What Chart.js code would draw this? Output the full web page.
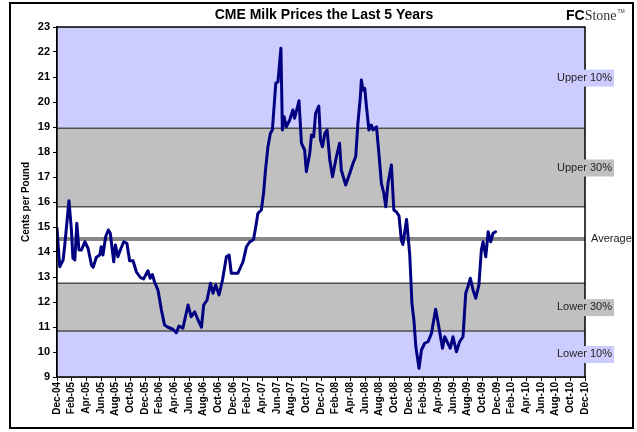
<!DOCTYPE html>
<html><head><meta charset="utf-8">
<script src="https://cdn.jsdelivr.net/npm/chart.js@4.4.0/dist/chart.umd.min.js"></script>
<style>html,body{margin:0;padding:0;background:#fff}#c{display:block}</style>
</head><body>
<canvas id="c" width="637" height="432"></canvas>
<script>
const tickLabels = ["Dec-04","Feb-05","Apr-05","Jun-05","Aug-05","Oct-05","Dec-05","Feb-06","Apr-06","Jun-06","Aug-06","Oct-06","Dec-06","Feb-07","Apr-07","Jun-07","Aug-07","Oct-07","Dec-07","Feb-08","Apr-08","Jun-08","Aug-08","Oct-08","Dec-08","Feb-09","Apr-09","Jun-09","Aug-09","Oct-09","Dec-09","Feb-10","Apr-10","Jun-10","Aug-10","Oct-10","Dec-10"];

const dates = ["2004-12-01","2004-12-12","2004-12-26","2005-01-02","2005-01-20","2005-01-30","2005-02-06","2005-02-14","2005-02-22","2005-03-01","2005-03-11","2005-03-25","2005-04-08","2005-04-22","2005-04-29","2005-05-12","2005-05-26","2005-06-02","2005-06-09","2005-06-20","2005-07-01","2005-07-09","2005-07-23","2005-07-30","2005-08-10","2005-08-20","2005-09-04","2005-09-17","2005-09-28","2005-10-12","2005-10-26","2005-11-12","2005-11-25","2005-12-13","2005-12-22","2006-01-01","2006-01-10","2006-01-24","2006-02-08","2006-02-21","2006-03-05","2006-03-25","2006-04-09","2006-04-20","2006-05-06","2006-05-27","2006-06-10","2006-06-24","2006-07-08","2006-07-22","2006-08-01","2006-08-15","2006-08-29","2006-09-09","2006-09-20","2006-10-04","2006-10-18","2006-11-04","2006-11-15","2006-11-24","2006-12-21","2007-01-12","2007-01-26","2007-02-09","2007-02-25","2007-03-04","2007-03-13","2007-03-27","2007-04-06","2007-04-14","2007-04-24","2007-05-04","2007-05-12","2007-05-26","2007-06-05","2007-06-17","2007-06-23","2007-06-30","2007-07-09","2007-07-23","2007-08-06","2007-08-13","2007-09-01","2007-09-11","2007-09-24","2007-10-01","2007-10-15","2007-10-22","2007-11-01","2007-11-09","2007-11-22","2007-11-29","2007-12-07","2007-12-17","2007-12-26","2008-01-07","2008-01-18","2008-02-04","2008-02-17","2008-02-24","2008-03-12","2008-03-29","2008-04-12","2008-04-23","2008-05-02","2008-05-12","2008-05-16","2008-05-23","2008-05-30","2008-06-07","2008-06-17","2008-06-27","2008-07-04","2008-07-18","2008-07-29","2008-08-08","2008-08-18","2008-08-26","2008-09-05","2008-09-19","2008-09-29","2008-10-09","2008-10-20","2008-10-30","2008-11-06","2008-11-21","2008-12-04","2008-12-13","2008-12-21","2008-12-29","2009-01-12","2009-01-22","2009-02-05","2009-02-19","2009-03-03","2009-03-20","2009-04-03","2009-04-18","2009-04-27","2009-05-10","2009-05-20","2009-06-01","2009-06-15","2009-06-28","2009-07-12","2009-07-23","2009-08-02","2009-08-12","2009-08-23","2009-09-04","2009-09-17","2009-09-27","2009-10-04","2009-10-15","2009-10-25","2009-11-05","2009-11-15","2009-11-25"];

const prices = [14.95,13.41,13.68,14.2,16.05,14.88,13.76,13.68,15.15,14.08,14.08,14.41,14.15,13.48,13.39,13.79,13.88,14.21,13.88,14.61,14.88,14.75,13.61,14.28,13.81,14.08,14.41,14.35,13.65,13.65,13.2,12.98,12.92,13.25,12.95,13.1,12.8,12.48,11.68,11.08,10.99,10.91,10.77,11.04,10.95,11.88,11.41,11.61,11.28,10.99,11.88,12.08,12.75,12.35,12.68,12.28,12.88,13.81,13.88,13.15,13.15,13.61,14.21,14.4,14.5,15.0,15.55,15.68,16.35,17.28,18.21,18.75,18.88,20.75,20.81,22.15,18.88,19.41,19.01,19.28,19.68,19.35,20.05,18.35,18.08,17.21,17.95,18.68,18.61,19.55,19.84,18.48,18.21,18.75,18.88,17.68,17.01,17.81,18.35,17.28,16.68,17.15,17.55,17.81,19.15,20.21,20.88,20.48,20.55,19.81,18.88,19.08,18.88,19.01,17.81,16.75,16.35,15.81,16.75,17.48,15.68,15.61,15.45,14.45,14.3,15.3,13.9,11.95,11.28,10.21,9.35,10.08,10.35,10.41,10.75,11.71,11.01,10.15,10.61,10.35,10.15,10.61,10.01,10.41,10.61,12.35,12.61,12.95,12.48,12.15,12.68,14.08,14.41,13.81,14.81,14.41,14.75,14.81];

const bandEdges = [9, 10.84, 12.75, 15.81, 18.95, 23];
const bandColors = ["#CCCCFF", "#C0C0C0", "#FFFFFF", "#C0C0C0", "#CCCCFF"];
const bandNames = ["Lower 10%", "Lower 30%", "", "Upper 30%", "Upper 10%"];
const averagePrice = 14.52;
const averageName = "Average";
const chartTitle = "CME Milk Prices the Last 5 Years";
const yTitle = "Cents per Pound";

function monthIndex(s) {
  const [y, m, d] = s.split('-').map(Number);
  return (y - 2004) * 12 + (m - 12) + (d - 1) / 30;
}

const FONT = 'Arial, "Liberation Sans", sans-serif';
Chart.defaults.font.family = FONT;

const bandPlugin = {
  id: 'bands',
  beforeDatasetsDraw(chart) {
    const { ctx, chartArea: a, scales: { y } } = chart;
    ctx.save();
    for (let i = 0; i < bandColors.length; i++) {
      const p0 = y.getPixelForValue(bandEdges[i]);
      const p1 = y.getPixelForValue(bandEdges[i + 1]);
      ctx.fillStyle = bandColors[i];
      ctx.fillRect(a.left, p1, a.right - a.left, p0 - p1);
    }
    ctx.strokeStyle = '#505050';
    ctx.lineWidth = 1.5;
    for (let i = 1; i < bandEdges.length - 1; i++) {
      const p = y.getPixelForValue(bandEdges[i]);
      ctx.beginPath(); ctx.moveTo(a.left, p); ctx.lineTo(a.right, p); ctx.stroke();
    }
    const pa = y.getPixelForValue(averagePrice);
    ctx.strokeStyle = '#888888';
    ctx.lineWidth = 4;
    ctx.beginPath(); ctx.moveTo(a.left, pa); ctx.lineTo(a.right, pa); ctx.stroke();
    ctx.restore();
  },
  afterDatasetsDraw(chart) {
    const { ctx, chartArea: a, scales: { y } } = chart;
    ctx.save();
    ctx.strokeStyle = '#000';
    ctx.lineWidth = 1.5;
    ctx.strokeRect(a.left, a.top, a.right - a.left, a.bottom - a.top);
    ctx.font = '11px ' + FONT;
    ctx.textBaseline = 'middle';
    for (let i = 0; i < bandNames.length; i++) {
      if (!bandNames[i]) continue;
      const mid = y.getPixelForValue((bandEdges[i] + bandEdges[i + 1]) / 2);
      const w = ctx.measureText(bandNames[i]).width;
      const right = a.right + 27;
      ctx.fillStyle = bandColors[i];
      ctx.fillRect(right - w - 3, mid - 8, w + 5, 17);
      ctx.fillStyle = '#222';
      ctx.textAlign = 'right';
      ctx.fillText(bandNames[i], right, mid);
    }
    ctx.textAlign = 'left';
    ctx.fillStyle = '#222';
    ctx.fillText(averageName, a.right + 6, y.getPixelForValue(averagePrice));
    ctx.restore();
  },
  afterDraw(chart) {
    const { ctx, chartArea: a } = chart;
    ctx.save();
    ctx.fillStyle = '#000';
    ctx.font = 'bold 14px ' + FONT;
    ctx.textAlign = 'center';
    ctx.textBaseline = 'middle';
    ctx.fillText(chartTitle, (a.left + a.right) / 2 + 3, 15);
    // logo
    ctx.textAlign = 'left';
    ctx.textBaseline = 'alphabetic';
    ctx.font = 'bold 14px ' + FONT;
    ctx.fillText('FC', 566, 20);
    const fw = ctx.measureText('FC').width;
    ctx.font = '14px "Liberation Serif", "Times New Roman", serif';
    ctx.fillStyle = '#333';
    ctx.fillText('Stone', 566 + fw, 20);
    const sw = ctx.measureText('Stone').width;
    ctx.font = '5px ' + FONT;
    ctx.fillText('TM', 566 + fw + sw + 1, 13);
    // outer frame
    ctx.strokeStyle = '#000';
    ctx.lineWidth = 2;
    ctx.strokeRect(10, 3, 623, 425);
    ctx.restore();
  }
};

new Chart(document.getElementById('c'), {
  type: 'line',
  data: {
    datasets: [{
      data: dates.map((d, i) => ({ x: monthIndex(d), y: prices[i] })),
      borderColor: '#000080',
      borderWidth: 3,
      pointRadius: 0,
      tension: 0,
      fill: false,
      borderJoinStyle: 'round',
      borderCapStyle: 'round'
    }]
  },
  options: {
    responsive: false,
    animation: false,
    devicePixelRatio: 1,
    layout: { padding: { left: 16, top: 27, right: 52, bottom: 0 } },
    plugins: { legend: { display: false }, tooltip: { enabled: false }, title: { display: false } },
    scales: {
      x: {
        type: 'linear', min: 0, max: 72,
        afterFit(s) { s.height = 55; },
        ticks: {
          stepSize: 2, autoSkip: false, maxRotation: 90, minRotation: 90, padding: 1,
          color: '#000', font: { size: 10, weight: 'bold' },
          callback: (v) => tickLabels[Math.round(v / 2)]
        },
        grid: { display: true, drawOnChartArea: false, tickLength: 4, color: '#000' },
        border: { color: '#000', width: 1.5 }
      },
      y: {
        min: 9, max: 23,
        afterFit(s) { s.width = 41; },
        ticks: { stepSize: 1, padding: 3, color: '#000', font: { size: 11, weight: 'bold' } },
        grid: { drawOnChartArea: false, tickLength: 4, color: '#000' },
        border: { color: '#000', width: 1.5 },
        title: { display: true, text: yTitle, color: '#000', font: { size: 10, weight: 'bold' }, padding: { top: 4, bottom: 0 } }
      }
    }
  },
  plugins: [bandPlugin]
});
</script>
</body></html>
